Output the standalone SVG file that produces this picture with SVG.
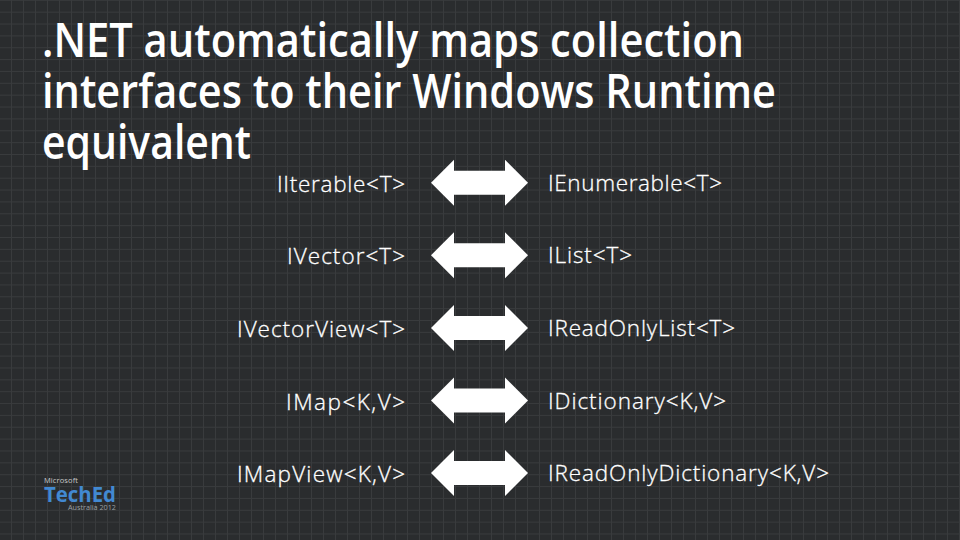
<svg xmlns="http://www.w3.org/2000/svg" width="960" height="540" viewBox="0 0 960 540">
<style>
.t{font-family:"Open Sans","Noto Sans",sans-serif;font-size:47px;font-weight:600;fill:#fff}
.l{font-family:"Open Sans","Noto Sans",sans-serif;font-size:22.5px;font-weight:300;fill:#fff;stroke:#fff;stroke-width:.3}
.a{fill:#fff}
</style>
<defs>
<pattern id="g" x="11" y="-0.2" width="12" height="11.86" patternUnits="userSpaceOnUse"><rect width="12" height="11.86" fill="#2a2c2e"/><path d="M0 .5H12M.5 0V11.86" stroke="#393b3d" stroke-width="1"/></pattern>
<path id="arrow" d="M0 0L23 -23V-12H74V-23L97 0L74 23V12H23V23Z"/>
</defs>
<rect width="960" height="540" fill="url(#g)"/>
<g id="title">
<text class="t" x="42" y="57" textLength="702" lengthAdjust="spacingAndGlyphs">.NET automatically maps collection</text>
<text class="t" x="42" y="108" textLength="734" lengthAdjust="spacingAndGlyphs">interfaces to their Windows Runtime</text>
<text class="t" x="42" y="158.5" textLength="209" lengthAdjust="spacingAndGlyphs">equivalent</text>
</g>
<g id="connectors" class="a">
<use href="#arrow" x="431" y="182.7"/>
<use href="#arrow" x="431" y="255.3"/>
<use href="#arrow" x="431" y="328"/>
<use href="#arrow" x="431" y="400.5"/>
<use href="#arrow" x="431" y="473"/>
</g>
<g id="n1"><text class="l" x="277" y="192" textLength="128">IIterable&lt;T&gt;</text></g>
<g id="n2"><text class="l" x="287" y="264" textLength="118">IVector&lt;T&gt;</text></g>
<g id="n3"><text class="l" x="237" y="337" textLength="168">IVectorView&lt;T&gt;</text></g>
<g id="n4"><text class="l" x="286" y="410" textLength="119">IMap&lt;K,V&gt;</text></g>
<g id="n5"><text class="l" x="237" y="482" textLength="168">IMapView&lt;K,V&gt;</text></g>
<g id="n6"><text class="l" x="548" y="191" textLength="174">IEnumerable&lt;T&gt;</text></g>
<g id="n7"><text class="l" x="548" y="263" textLength="84">IList&lt;T&gt;</text></g>
<g id="n8"><text class="l" x="548" y="336" textLength="187">IReadOnlyList&lt;T&gt;</text></g>
<g id="n9"><text class="l" x="548" y="409" textLength="178">IDictionary&lt;K,V&gt;</text></g>
<g id="n10"><text class="l" x="548" y="481" textLength="281">IReadOnlyDictionary&lt;K,V&gt;</text></g>
<g id="logo">
<text x="44" y="483" font-family="Open Sans,sans-serif" font-size="7.5" fill="#c8c8c8" textLength="34">Microsoft</text>
<text x="44" y="502" font-family="Open Sans,sans-serif" font-size="21.5" font-weight="700" fill="#4289d2" textLength="72" lengthAdjust="spacingAndGlyphs">TechEd</text>
<text x="68" y="510" font-family="Open Sans,sans-serif" font-size="7.5" fill="#9aa0a4" textLength="48" lengthAdjust="spacingAndGlyphs">Australia 2012</text>
</g>
</svg>
